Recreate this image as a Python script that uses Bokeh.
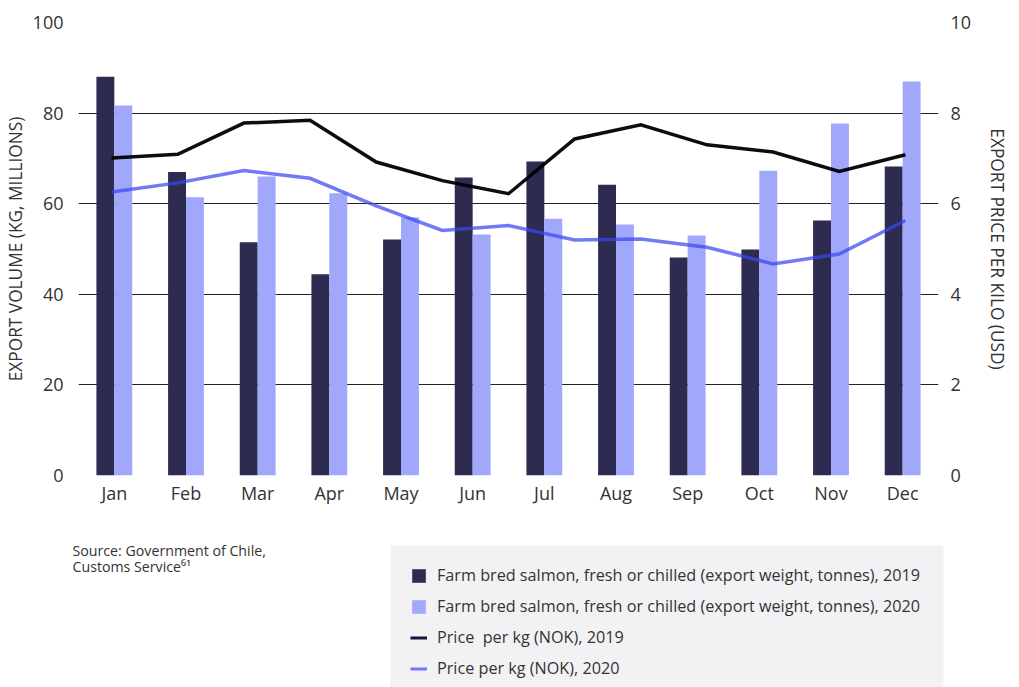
from bokeh.plotting import figure
from bokeh.layouts import column
from bokeh.models import (Range1d, LinearAxis, FixedTicker, Legend, LegendItem,
                          Label, ColumnDataSource, BoxAnnotation)
from bokeh.transform import dodge
from bokeh.embed import file_html
from bokeh.resources import INLINE

months = ["Jan", "Feb", "Mar", "Apr", "May", "Jun", "Jul", "Aug", "Sep", "Oct", "Nov", "Dec"]
volume_2019 = [88.0, 67.0, 51.5, 44.4, 52.1, 65.8, 69.3, 64.2, 48.1, 49.9, 56.3, 68.2]
volume_2020 = [81.7, 61.4, 66.0, 62.3, 57.0, 53.2, 56.7, 55.4, 53.0, 67.3, 77.7, 87.0]
# price series have 13 points in the source chart
price_points = list(range(13))
price_2019 = [7.01, 7.09, 7.78, 7.84, 6.92, 6.51, 6.22, 7.43, 7.74, 7.30, 7.14, 6.71, 7.08]
price_2020 = [6.26, 6.46, 6.73, 6.56, 5.95, 5.41, 5.52, 5.20, 5.22, 5.04, 4.67, 4.89, 5.63]
vol_ticks = [0, 20, 40, 60, 80, 100]
price_ticks = [0, 2, 4, 6, 8, 10]
legend_labels = ["Farm bred salmon, fresh or chilled (export weight, tonnes), 2019",
                 "Farm bred salmon, fresh or chilled (export weight, tonnes), 2020",
                 "Price  per kg (NOK), 2019",
                 "Price per kg (NOK), 2020"]
source_lines = ["Source: Government of Chile,", "Customs Service\u2076\u00b9"]

FONT = "Open Sans"
TXT = "#333333"
C19, C20 = "#2d2b50", "#a1a8fc"
L19, L20 = "#000000", "#3a46f0"

W, H = 1019, 687
H1 = 520          # height of the chart part
H2 = H - H1       # notes / legend strip
LEFT, RIGHT = 77, 81

centers = [i + 0.5 for i in range(len(months))]
src = ColumnDataSource(dict(x=centers, m=months, v19=volume_2019, v20=volume_2020))

p = figure(width=W, height=H1, x_range=Range1d(0, len(months)), y_range=Range1d(0, 100),
           output_backend="svg", toolbar_location=None,
           min_border_left=LEFT, min_border_right=RIGHT, min_border_top=22,
           min_border_bottom=H1 - 475)
p.outline_line_color = None
p.background_fill_color = "white"
p.border_fill_color = "white"

p.extra_y_ranges = {"price": Range1d(0, 10)}
p.extra_x_ranges = {"pts": Range1d(-0.5, len(price_points) - 0.5)}

p.vbar(x=dodge("x", -0.125), top="v19", width=0.25, source=src,
       fill_color=C19, line_color=None)
p.vbar(x=dodge("x", 0.125), top="v20", width=0.25, source=src,
       fill_color=C20, line_color=None)

p.line(price_points, price_2019, x_range_name="pts", y_range_name="price",
       line_color=L19, line_width=3.5, line_alpha=0.95, line_join="miter")
p.line(price_points, price_2020, x_range_name="pts", y_range_name="price",
       line_color=L20, line_width=3.5, line_alpha=0.72, line_join="miter")

def style(ax):
    ax.axis_line_color = None
    ax.major_tick_line_color = None
    ax.minor_tick_line_color = None
    ax.major_tick_out = 0
    ax.major_tick_in = 0
    ax.minor_tick_out = 0
    ax.minor_tick_in = 0
    ax.major_label_text_font = FONT
    ax.major_label_text_font_size = "18px"
    ax.major_label_text_color = TXT
    ax.axis_label_text_font = FONT
    ax.axis_label_text_font_style = "normal"
    ax.axis_label_text_font_size = "17.3px"
    ax.axis_label_text_color = TXT

p.xaxis.ticker = FixedTicker(ticks=centers)
p.xaxis.major_label_overrides = {c: m for c, m in zip(centers, months)}
style(p.xaxis[0])
p.xaxis.major_label_standoff = 5

p.yaxis.ticker = FixedTicker(ticks=vol_ticks)
p.yaxis.axis_label = "EXPORT VOLUME (KG, MILLIONS)"
style(p.yaxis[0])
p.yaxis.major_label_standoff = 15
p.yaxis.axis_label_standoff = 3

p.ygrid.ticker = FixedTicker(ticks=vol_ticks)
p.ygrid.grid_line_color = "#222222"
p.ygrid.grid_line_width = 1.2
p.xgrid.grid_line_color = None

ry = LinearAxis(y_range_name="price", ticker=FixedTicker(ticks=price_ticks),
                axis_label="EXPORT PRICE PER KILO (USD)")
style(ry)
ry.major_label_standoff = 12
ry.axis_label_standoff = 12
p.add_layout(ry, "right")

# ---- notes strip: source text and legend (page pixel coordinates) ----
p2 = figure(width=W, height=H2, output_backend="svg", toolbar_location=None,
            x_axis_location=None, y_axis_location=None,
            min_border_left=0, min_border_right=0, min_border_top=0, min_border_bottom=0)
if "frame_align" in p2.properties():
    p.frame_align = False
    p2.frame_align = False
    xr = (0, W)
else:
    xr = (-LEFT, W - RIGHT)
p2.x_range = Range1d(*xr)
p2.y_range = Range1d(H, H1)
p2.outline_line_color = None
p2.grid.visible = False
p2.background_fill_color = "white"
p2.border_fill_color = "white"

p2.add_layout(BoxAnnotation(left=390, right=943, top=545, bottom=H + 5,
                            fill_color="#f2f2f4", fill_alpha=1, line_color=None))

# legend swatches (kept outside the visible range) carry the chart's styles
k19 = p2.vbar(x=[-500], top=[H], bottom=[H], width=1, fill_color=C19, line_color=None)
k20 = p2.vbar(x=[-500], top=[H], bottom=[H], width=1, fill_color=C20, line_color=None)
m19 = p2.line(x=[-500, -490], y=[H, H], line_color="#15143a", line_width=3)
m20 = p2.line(x=[-500, -490], y=[H, H], line_color="#6f78f4", line_width=3)

legend = Legend(items=[LegendItem(label=t, renderers=[r])
                       for t, r in zip(legend_labels, [k19, k20, m19, m20])],
                location=(410 - xr[0], 8))
legend.background_fill_alpha = 0
legend.border_line_color = None
legend.padding = 0
legend.margin = 0
legend.spacing = 9
legend.glyph_width = 17
legend.glyph_height = 17
legend.label_height = 20
legend.label_standoff = 10
legend.label_text_font = FONT
legend.label_text_font_size = "16.2px"
legend.label_text_color = TXT
p2.add_layout(legend, "center")

for i, t in enumerate(source_lines):
    p2.add_layout(Label(x=max(72, xr[0]), y=550 + 16 * i, text=t,
                        text_font=FONT, text_font_size="14.2px", text_color=TXT,
                        text_baseline="middle"))

layout = column(p, p2, spacing=0)
open("out.html", "w").write(file_html(layout, INLINE))
